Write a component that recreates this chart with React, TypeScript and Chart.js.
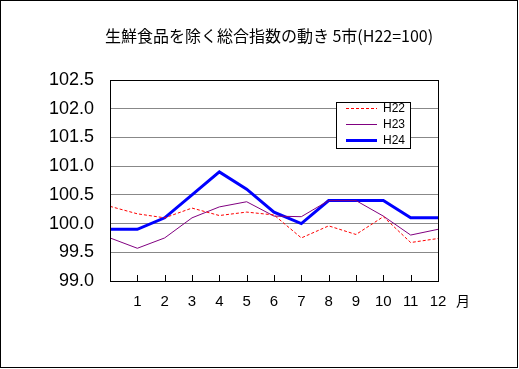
import React, { useEffect, useRef } from "react";
import { Chart, registerables } from "chart.js";

Chart.register(...registerables);

const TITLE = "生鮮食品を除く総合指数の動き 5市(H22=100)";
const MONTHS = ["", "1", "2", "3", "4", "5", "6", "7", "8", "9", "10", "11", "12"];
const UNIT = "月";
const H22 = [100.3, 100.17, 100.1, 100.27, 100.14, 100.2, 100.15, 99.75, 99.96, 99.81, 100.12, 99.67, 99.74];
const H23 = [99.75, 99.57, 99.75, 100.1, 100.29, 100.38, 100.13, 100.12, 100.4, 100.4, 100.13, 99.8, 99.9];
const H24 = [99.9, 99.9, 100.1, 100.5, 100.9, 100.6, 100.2, 100.0, 100.4, 100.4, 100.4, 100.1, 100.1];
const Y_MIN = 99.0;
const Y_MAX = 102.5;
const Y_STEP = 0.5;

const decorPlugin = {
  id: "decor",
  afterDraw(chart: any) {
    const ctx = chart.ctx as CanvasRenderingContext2D;
    const a = chart.chartArea;
    const xs = chart.scales.x;
    ctx.save();
    // outer border
    ctx.strokeStyle = "#000";
    ctx.lineWidth = 1;
    ctx.strokeRect(0.5, 0.5, 517, 367);
    // plot border
    ctx.strokeRect(Math.round(a.left) + 0.5, Math.round(a.top) + 0.5, Math.round(a.right - a.left), Math.round(a.bottom - a.top));
    // inward ticks
    ctx.beginPath();
    for (let i = 1; i < MONTHS.length - 1; i++) {
      const x = Math.round(xs.getPixelForValue(i)) + 0.5;
      ctx.moveTo(x, a.bottom);
      ctx.lineTo(x, a.bottom - 6);
    }
    ctx.stroke();
    // title
    ctx.fillStyle = "#000";
    ctx.font = '16px "Noto Sans CJK JP", sans-serif';
    ctx.textAlign = "center";
    ctx.textBaseline = "middle";
    ctx.fillText(TITLE, 269, 36);
    // unit
    ctx.font = '14px "Noto Sans CJK JP", sans-serif';
    ctx.fillText(UNIT, 463, 301);
    // legend
    const lx = 336, ly = 102, lw = 74, lh = 46;
    ctx.fillStyle = "#fff";
    ctx.fillRect(lx, ly, lw, lh);
    ctx.strokeStyle = "#000";
    ctx.lineWidth = 1;
    ctx.strokeRect(lx + 0.5, ly + 0.5, lw, lh);
    const items = chart.data.datasets;
    const rows = [108.5, 124.5, 140.5];
    ctx.font = '12px "Liberation Sans", sans-serif';
    ctx.textAlign = "left";
    items.forEach((ds: any, i: number) => {
      ctx.beginPath();
      ctx.strokeStyle = ds.borderColor;
      ctx.lineWidth = ds.borderWidth;
      ctx.setLineDash(ds.borderDash || []);
      ctx.moveTo(346, rows[i]);
      ctx.lineTo(377, rows[i]);
      ctx.stroke();
      ctx.setLineDash([]);
      ctx.fillStyle = "#000";
      ctx.fillText(ds.label, 383, rows[i] + 0.5);
    });
    ctx.restore();
  },
};

export default function App() {
  const ref = useRef<HTMLCanvasElement>(null);
  useEffect(() => {
    if (!ref.current) return;
    const chart = new Chart(ref.current, {
      type: "line",
      data: {
        labels: MONTHS,
        datasets: [
          { label: "H22", data: H22, borderColor: "#ff0000", borderWidth: 1, borderDash: [3, 2], pointRadius: 0, tension: 0, fill: false },
          { label: "H23", data: H23, borderColor: "#800080", borderWidth: 1, pointRadius: 0, tension: 0, fill: false },
          { label: "H24", data: H24, borderColor: "#0000ff", borderWidth: 3, pointRadius: 0, tension: 0, fill: false },
        ],
      },
      options: {
        responsive: false,
        animation: false,
        layout: { padding: { top: 80, right: 81, left: 0, bottom: 0 } },
        plugins: { legend: { display: false }, title: { display: false }, tooltip: { enabled: false } },
        scales: {
          x: {
            type: "category",
            offset: false,
            grid: { display: false, drawTicks: false },
            border: { display: false },
            ticks: {
              color: "#000",
              font: { family: '"Liberation Sans", sans-serif', size: 15 },
              padding: 12,
              maxRotation: 0,
              autoSkip: false,
            },
            afterFit(scale: any) {
              scale.height = 88;
            },
          },
          y: {
            min: Y_MIN,
            max: Y_MAX,
            grid: { color: "#888888", lineWidth: 1, drawTicks: false },
            border: { display: false },
            ticks: {
              stepSize: Y_STEP,
              color: "#000",
              font: { family: '"Liberation Sans", sans-serif', size: 18 },
              padding: 16,
              callback: (v: any) => Number(v).toFixed(1),
            },
            afterFit(scale: any) {
              scale.width = 110;
            },
          },
        },
      },
      plugins: [decorPlugin],
    });
    return () => chart.destroy();
  }, []);
  return (
    <div style={{ position: "absolute", left: 0, top: 0, width: 519, height: 369, background: "#fff" }}>
      <canvas ref={ref} width={519} height={369} style={{ display: "block" }} />
    </div>
  );
}
